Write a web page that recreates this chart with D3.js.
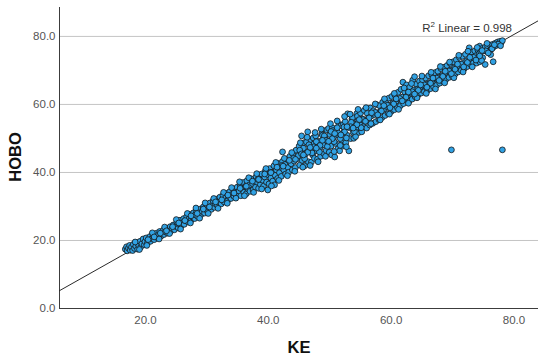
<!DOCTYPE html>
<html>
<head>
<meta charset="utf-8">
<script src="https://cdn.jsdelivr.net/npm/d3@7"></script>
<style>
    html, body { margin: 0; padding: 0; background: #fff; }
    svg { display: block; font-family: "Liberation Sans", Arial, sans-serif; }
    .grid line { stroke: #c4c4c4; stroke-width: 1; }
    .axis path { stroke: #3c3c3c; stroke-width: 1; }
    .axis text { fill: #555; font-size: 11.5px; }
    .axis-title { font-size: 16.5px; font-weight: bold; fill: #111; }
    .dot { fill: #31a2e4; stroke: #141414; stroke-width: 0.8; }
    .fit { stroke: #2a2a2a; stroke-width: 1; }
    .r2 { font-size: 11.5px; fill: #333; }
</style>
</head>
<body>
<div id="chart"></div>
<script>
// KE vs HOBO readings, [KE, HOBO]
var lowRange = [
    [16.8,17.3],[17.0,18.0],[17.1,16.8],[17.3,17.6],[17.5,18.4],[17.6,17.0],[17.8,17.9],[18.0,16.9],[18.1,18.7],[18.3,17.5],
    [18.5,18.2],[18.7,19.2],[18.8,17.3],[19.0,18.4],[19.2,19.6],[19.3,17.9],[19.5,18.9],[19.7,20.3],[19.9,18.6],[20.0,19.5],
    [20.2,20.6],[20.4,19.1],[20.6,19.9],[20.8,21.0],[20.9,19.6],[21.1,20.4],[21.3,21.5],[21.5,20.1],[21.7,21.0],[21.9,22.0],
    [22.0,20.7],[22.2,21.5],[22.4,22.5],[22.6,21.1],[22.8,21.9],[23.0,22.9],[23.1,21.6],[23.3,22.4],[23.5,23.4],[23.7,22.0],
    [23.9,22.9],[24.1,23.9],[24.2,22.6],[24.4,23.4],[24.6,24.4],[24.8,23.0],
    [25.0,24.0],[25.2,25.2],[25.4,23.6],[25.5,24.6],[25.7,25.8],[25.9,24.2],[26.1,25.1],[26.3,26.3],[26.4,24.6],[26.6,25.7],
    [26.8,26.9],[27.0,25.3],[27.2,26.3],[27.3,27.5],[27.5,25.8],[27.7,26.8],[27.9,28.0],[28.1,26.3],[28.2,27.4],[28.4,28.5],
    [28.6,26.9],[28.8,27.9],[29.0,29.1],[29.1,27.4],[29.3,28.4],[29.5,29.7],[29.7,27.9],[29.9,29.0],[30.0,30.3],[30.2,28.5],
    [30.4,29.6],[30.6,30.9],[30.8,29.0],[30.9,30.1],[31.1,31.5],[31.3,29.6],[31.5,30.6],[31.7,32.0],[31.8,30.1],[32.0,31.2],
    [32.2,32.6],[32.4,30.6],[32.6,31.7],[32.7,33.1],[32.9,31.2],[33.1,32.3],[33.3,33.7],[33.5,31.7],[33.6,32.8],[33.8,34.2],
    [34.0,32.2],[34.2,33.4],[34.4,34.9],[34.5,32.8],[34.7,33.9]
];

var midRange = [
    [35.0,35.5],[35.1,33.3],[35.3,34.4],[35.5,36.3],[35.6,33.0],[35.8,35.0],[36.0,36.9],[36.1,34.0],[36.3,35.6],[36.5,33.6],
    [36.6,37.4],[36.8,35.0],[37.0,36.2],[37.1,34.3],[37.3,38.0],[37.5,36.6],[37.6,34.7],[37.8,37.2],[38.0,35.5],[38.1,38.6],
    [38.3,37.0],[38.5,35.2],[38.6,37.9],[38.8,36.3],[39.0,39.4],[39.1,37.6],[39.3,35.8],[39.5,38.5],[39.6,40.3],[39.8,37.0],
    [40.0,34.7],[40.0,39.2],[40.2,36.5],[40.3,41.0],[40.5,38.2],[40.7,39.9],[40.8,37.3],[41.0,41.8],[41.1,36.2],[41.2,39.0],
    [41.4,40.6],[41.6,38.1],[41.7,42.5],[41.9,39.8],[42.1,41.4],[42.2,38.7],[42.4,45.9],[42.4,43.1],[42.6,40.6],[42.8,42.2],
    [42.9,39.4],[43.1,43.8],[43.3,41.3],[43.4,39.9],[43.6,44.6],[43.8,42.4],[44.0,40.6],[44.1,45.3],[44.3,43.2],[44.5,41.3],
    [44.6,46.4],[44.8,43.9],[36.4,35.8],[38.4,37.8],[40.4,39.8],[42.3,41.9],[44.2,44.0],
    [45.0,44.8],[45.1,47.6],[45.2,42.0],[45.4,45.9],[45.5,50.6],[45.6,43.4],[45.8,47.0],[45.9,48.6],[46.0,41.8],[46.1,45.2],
    [46.3,48.8],[46.5,51.8],[46.6,43.0],[46.8,46.6],[47.0,49.5],[47.1,42.9],[47.3,45.0],[47.4,50.0],[47.5,48.2],[47.6,44.0],
    [47.8,50.6],[48.0,46.2],[48.1,43.8],[48.3,49.0],[48.5,47.1],[48.6,44.6],[48.8,51.2],[48.9,50.8],[49.0,48.0],[49.1,45.4],
    [49.3,50.0],[49.5,46.3],[49.6,52.4],[49.8,49.0],[49.9,52.8],[50.0,45.8],[50.1,51.0],[50.3,47.6],[50.4,45.0],[50.5,53.0],
    [50.6,52.2],[50.7,50.1],[50.9,44.4],[51.0,48.4],[51.2,52.2],[51.4,46.8],[51.5,50.8],[51.6,54.0],[51.7,46.2],[51.9,53.6],
    [52.0,49.3],[52.2,47.6],[52.3,54.0],[52.4,51.9],[52.6,54.8],[52.7,48.6],[52.9,50.8],[53.0,57.1],[53.2,46.2],[53.3,53.0],
    [53.5,49.8],[53.7,55.6],[53.8,56.0],[53.9,51.6],[54.0,49.9],[54.2,54.0],[54.4,52.5],[54.5,57.2],[54.6,56.4],[54.8,51.6],
    [55.0,53.9]
];

var highRange = [
    [55.1,57.3],[55.2,52.4],[55.4,55.6],[55.6,53.3],[55.7,58.1],[55.9,55.0],[56.1,52.9],[56.2,57.2],[56.4,55.9],[56.6,53.8],
    [56.7,58.8],[56.9,56.5],[57.1,54.3],[57.2,58.0],[57.4,56.9],[57.6,54.8],[57.7,59.8],[57.9,57.4],[58.1,55.4],[58.2,59.5],
    [58.4,58.0],[58.6,56.0],[58.7,60.5],[58.9,58.5],[59.1,56.6],[59.2,61.0],[59.4,59.2],[59.6,57.2],[59.7,61.7],[59.9,59.7],
    [60.1,57.8],[60.2,62.2],[60.4,60.3],[60.6,58.3],[60.7,62.6],[60.9,60.8],[61.1,58.9],[61.2,63.4],[61.4,61.4],[61.6,59.5],
    [61.7,64.3],[61.9,62.0],[62.0,66.4],[62.1,60.1],[62.3,63.5],[62.5,61.4],[62.6,65.6],[62.8,62.6],[63.0,60.8],[63.1,64.9],
    [63.3,63.2],[63.5,61.4],[63.6,67.0],[63.8,64.1],[63.9,68.0],[64.0,62.1],[64.2,65.8],[64.4,64.4],[64.5,62.7],[64.7,66.7],
    [64.9,64.9],
    [65.0,63.2],[65.2,67.0],[65.4,65.3],[65.5,63.6],[65.7,67.6],[65.9,65.8],[66.0,64.0],[66.2,68.3],[66.4,66.3],[66.5,64.5],
    [66.7,68.6],[66.9,66.8],[67.0,65.0],[67.2,69.2],[67.4,67.3],[67.5,65.5],[67.7,69.6],[67.9,67.9],[68.0,66.1],[68.2,70.4],
    [68.4,68.4],[68.5,66.7],[68.7,70.8],[68.9,69.0],[69.0,67.2],[69.2,71.3],[69.4,69.5],[69.5,67.8],[69.7,71.9],[69.9,70.0],
    [70.0,68.3],[70.2,72.4],[70.4,70.6],[70.5,68.8],[70.7,73.0],[70.9,71.1],[71.0,69.4],[71.2,73.7],[71.4,71.6],[71.5,69.9],
    [71.7,74.0],[71.9,72.1],[72.0,70.4],[72.2,74.6],[72.4,72.7],[72.5,71.0],[72.8,76.5],[72.9,73.2],[73.0,71.6],[73.2,75.2],
    [73.4,73.7],[73.5,72.1],[73.7,75.6],[73.9,74.2],[74.0,72.0],[74.2,75.9],[74.4,74.7],[74.5,77.0],[74.5,72.4],[74.7,75.3],
    [74.9,76.3],[75.0,73.6],[75.2,75.7],[75.4,71.6],[75.4,76.7],[75.6,75.5],[75.8,76.9],[76.0,75.4],[76.2,77.3],[76.4,76.2],
    [76.6,77.5],[76.7,72.4],[76.8,76.8],[77.0,77.8],[77.2,77.2],[77.4,78.2],[77.6,77.6],[77.8,78.4],[78.0,78.0],[78.2,78.6]
];

// edge readings that widen the band
var edgeRange = [
    [18.4,19.4],[19.1,17.2],[20.3,18.4],[21.2,22.1],[22.3,20.3],[23.2,23.8],[24.0,21.9],[25.1,26.0],[25.8,23.2],[26.9,27.8],
    [27.4,25.0],[28.3,29.4],[28.9,26.4],[29.8,30.9],[30.3,27.8],[31.2,32.2],[31.9,29.3],[32.8,34.0],[33.4,30.8],[34.1,35.4],
    [34.8,32.3],
    [35.4,37.1],[36.2,33.0],[36.9,38.3],[37.7,34.0],[38.2,39.5],[39.0,35.0],[39.7,41.0],[40.6,35.9],[41.3,42.8],[41.8,37.5],
    [42.7,44.0],[43.2,38.9],[43.9,45.7],[44.4,40.2],[45.3,48.6],[45.7,41.4],[46.4,50.2],[46.9,41.9],[47.7,51.6],[48.2,43.0],
    [48.7,52.6],[49.4,44.6],[50.2,54.2],[50.8,46.0],[51.3,55.0],[51.8,47.8],[52.5,56.3],[52.8,47.4],[53.4,57.0],[54.3,50.4],
    [54.7,58.4],[55.3,51.8],
    [45.2,46.4],[46.0,43.9],[46.7,48.0],[47.2,45.6],[47.9,48.9],[48.4,45.9],[49.2,50.6],[49.7,47.5],[50.3,51.9],[50.8,48.9],
    [51.3,53.0],[51.8,49.8],[52.4,53.2],[52.8,50.0],[53.6,54.6],[54.1,51.9],[54.7,55.1],[55.2,53.0],
    [56.0,58.9],[56.8,54.2],[57.5,60.0],[58.3,55.3],[59.0,61.5],[59.8,57.0],[60.6,63.1],[61.3,58.4],[62.2,64.7],[62.9,60.2],
    [63.4,66.0],[64.3,61.8],[65.1,68.2],[65.8,63.1],[66.6,69.3],[67.3,64.4],[68.1,71.0],[68.8,66.2],[69.6,72.3],[70.3,67.7],
    [71.1,74.3],[71.8,69.4],[72.6,75.5],[73.3,70.9],[74.1,76.6],[74.8,72.8],[75.7,77.8],[76.3,74.5]
];

// readings sitting right on the fit line (the dark core of the band)
var coreRange = [
    [20.5,20.1],[21.5,20.9],[22.5,22.0],[23.5,22.7],[24.5,23.9],[25.5,25.0],[26.5,25.7],[27.5,27.1],[28.5,27.8],[29.5,29.1],
    [30.5,29.7],[31.5,31.2],[32.5,31.8],[33.5,33.2],[34.5,33.8],[35.5,35.2],[36.5,35.8],[37.5,37.3],[38.5,37.8],[39.5,39.4],
    [40.5,39.8],[41.5,41.4],[42.5,41.7],[43.5,43.4],[44.5,43.7],[45.5,45.3],[46.5,45.8],[47.5,47.4],[48.5,47.8],[49.5,49.3],
    [50.5,49.8],[51.5,51.4],[52.5,51.8],[53.5,53.3],[54.5,53.9],[55.5,55.4],[56.5,55.9],[57.5,57.5],[58.5,57.9],[59.5,59.6],
    [60.5,60.0],[61.5,61.6],[62.5,62.0],[63.5,63.6],[64.5,64.0],[65.5,65.6],[66.5,66.1],[67.5,67.6],[68.5,68.1],[69.5,69.7],
    [70.5,70.2],[71.5,71.7],[72.5,72.2],[73.5,73.7],[74.5,74.1],[75.5,75.6],[76.5,76.2],[77.5,77.6],
    [45.8,45.0],[46.9,47.2],[47.9,47.0],[48.9,49.3],[49.9,49.0],[50.9,51.3],[51.9,50.9],[52.9,53.3],[53.9,52.9],[54.9,55.4],
    [55.9,54.9],[56.9,57.4],[57.9,56.8],[58.9,59.5],[59.9,58.9],[60.9,61.5],[61.9,60.9],[62.9,63.5],[63.9,62.9],[64.9,65.6],
    [65.9,64.9],[66.9,67.6],[67.9,66.9],[68.9,69.6],[69.9,68.9],[70.9,71.7],[71.9,70.9],[72.9,73.7],[73.9,72.9],[74.9,75.7],
    [75.9,75.0],[76.9,77.4],[77.9,77.1]
];

// two stray readings far below the band
var outliers = [[69.9,46.5],[78.2,46.5]];

var xTicks = [20, 40, 60, 80],
    yTicks = [0, 20, 40, 60, 80];

// linear fit reported on the chart
var fitIntercept = -1.1,
    fitSlope = 1.018,
    r2Label = "0.998";

var width = 550,
    height = 361;

var svg = d3.select("#chart").append("svg")
    .attr("width", width)
    .attr("height", height);

var x = d3.scaleLinear().domain([6, 84]).range([59, 538]);
var y = d3.scaleLinear().domain([0, 88.5]).range([308, 7]);

// horizontal grid lines
svg.append("g")
    .attr("class", "grid")
    .selectAll("line")
    .data(yTicks.filter(function(d) { return d > 0; }))
    .enter().append("line")
    .attr("x1", x(6) + 1)
    .attr("x2", x(84))
    .attr("y1", function(d) { return y(d) + 0.5; })
    .attr("y2", function(d) { return y(d) + 0.5; });

// axes
var xAxis = d3.axisBottom(x)
    .tickValues(xTicks)
    .tickSize(0)
    .tickPadding(7)
    .tickFormat(d3.format(".1f"));

var yAxis = d3.axisLeft(y)
    .tickValues(yTicks)
    .tickSize(0)
    .tickPadding(4)
    .tickFormat(d3.format(".1f"));

svg.append("g")
    .attr("class", "x axis")
    .attr("transform", "translate(0,308.5)")
    .call(xAxis)
    .call(function(g) { g.select(".domain").attr("d", "M" + x(6) + ",0H" + x(84)); })
    .selectAll("text")
    .style("font-family", "inherit");

svg.append("g")
    .attr("class", "y axis")
    .attr("transform", "translate(59.5,0)")
    .call(yAxis)
    .call(function(g) { g.select(".domain").attr("d", "M0," + y(88.5) + "V" + (y(0) + 0.5)); })
    .selectAll("text")
    .style("font-family", "inherit");

// fit line, under the points
svg.append("line")
    .attr("class", "fit")
    .attr("x1", x(6))
    .attr("y1", y(fitIntercept + fitSlope * 6))
    .attr("x2", x(84))
    .attr("y2", y(fitIntercept + fitSlope * 84));

var allPoints = lowRange.concat(midRange, highRange, edgeRange, coreRange, outliers);

svg.append("g")
    .selectAll("circle")
    .data(allPoints)
    .enter().append("circle")
    .attr("class", "dot")
    .attr("cx", function(d) { return x(d[0]); })
    .attr("cy", function(d) { return y(d[1]); })
    .attr("r", 2.9);

// R2 note
var note = svg.append("text")
    .attr("class", "r2")
    .attr("x", 512)
    .attr("y", 31.5)
    .attr("text-anchor", "end");
note.append("tspan").text("R");
note.append("tspan").attr("font-size", "8px").attr("dy", -4.5).text("2");
note.append("tspan").attr("dy", 4.5).text(" Linear = " + r2Label);

// axis titles
svg.append("text")
    .attr("class", "axis-title")
    .attr("x", 299)
    .attr("y", 353)
    .attr("text-anchor", "middle")
    .text("KE");

svg.append("text")
    .attr("class", "axis-title")
    .attr("transform", "translate(21,157) rotate(-90)")
    .attr("text-anchor", "middle")
    .text("HOBO");
</script>
</body>
</html>
